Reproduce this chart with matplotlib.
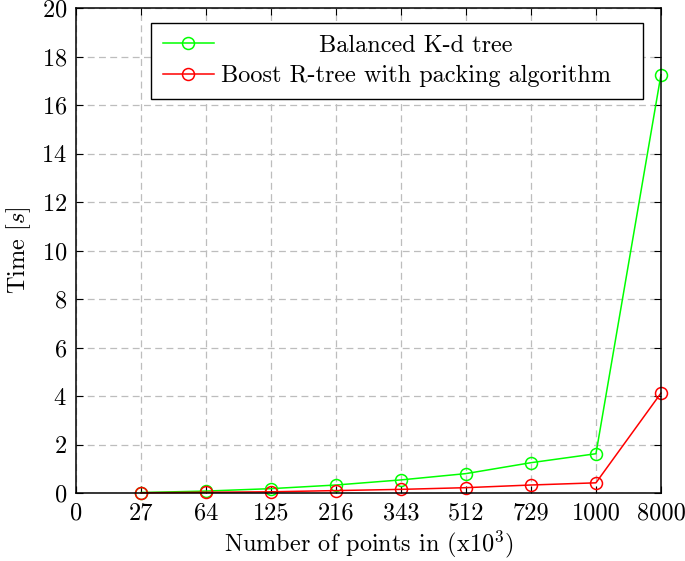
import matplotlib
matplotlib.use("Agg")
import matplotlib.pyplot as plt
from matplotlib.patches import Rectangle
from matplotlib.transforms import IdentityTransform

plt.rcParams['font.family'] = ['cmr10', 'DejaVu Serif']
plt.rcParams['mathtext.fontset'] = 'cm'
plt.rcParams['axes.formatter.use_mathtext'] = True

x_labels = ["0", "27", "64", "125", "216", "343", "512", "729", "1000", "8000"]
kd_tree = [0.02, 0.08, 0.18, 0.33, 0.54, 0.80, 1.25, 1.62, 17.25]
r_tree = [0.01, 0.03, 0.05, 0.10, 0.15, 0.22, 0.33, 0.42, 4.12]
y_ticks = [0, 2, 4, 6, 8, 10, 12, 14, 16, 18, 20]

FS = 17.5

fig = plt.figure(figsize=(6.85, 5.61), dpi=100)
ax = fig.add_axes([0.1109, 0.1212, 0.854, 0.8645])

xpos = list(range(1, len(x_labels)))
ax.plot(xpos, kd_tree, color=(0, 1, 0), lw=1.1, marker='o', ms=8.6,
        mfc='none', mec=(0, 1, 0), mew=1.1, label="Balanced K-d tree",
        zorder=3, clip_on=False)
ax.plot(xpos, r_tree, color=(1, 0, 0), lw=1.1, marker='o', ms=8.6,
        mfc='none', mec=(1, 0, 0), mew=1.1, label="Boost R-tree with packing algorithm",
        zorder=3, clip_on=False)

ax.set_xlim(0, 9)
ax.set_ylim(0, 20)
ax.set_xticks(range(len(x_labels)))
ax.set_xticklabels(x_labels)
ax.set_yticks(y_ticks)
ax.tick_params(direction='in', top=True, right=True, length=5, width=0.8,
               labelsize=FS, pad=6.5)
ax.grid(True, color='#bdbdbd', linestyle=(0, (5.5, 3.5)), lw=0.9)
for s in ax.spines.values():
    s.set_linewidth(1.1)
    s.set_zorder(4)

ax.set_xlabel("Number of points in (x$10^3$)", fontsize=FS, labelpad=3)
ax.set_ylabel("Time $[s]$", fontsize=FS, labelpad=6)

leg = ax.legend(loc='upper left', bbox_to_anchor=(0.1282, 0.9691), borderaxespad=0,
                frameon=False, fontsize=FS, handlelength=2.1, handletextpad=0.3,
                borderpad=0.48, labelspacing=0.34)
leg.set_zorder(6)

fig.canvas.draw()
r = fig.canvas.get_renderer()
texts = leg.get_texts()
w0 = texts[0].get_window_extent(r).width
w1 = texts[1].get_window_extent(r).width
texts[0].set_x((w1 - w0) / 2)

lb = leg.get_window_extent(r)
extra_right = 20
frame = Rectangle((lb.x0, lb.y0), lb.width + extra_right, lb.height,
                  transform=IdentityTransform(), facecolor='white',
                  edgecolor='black', lw=1.0, zorder=5.5, clip_on=False)
ax.add_artist(frame)

fig.savefig("out.png", dpi=100)
